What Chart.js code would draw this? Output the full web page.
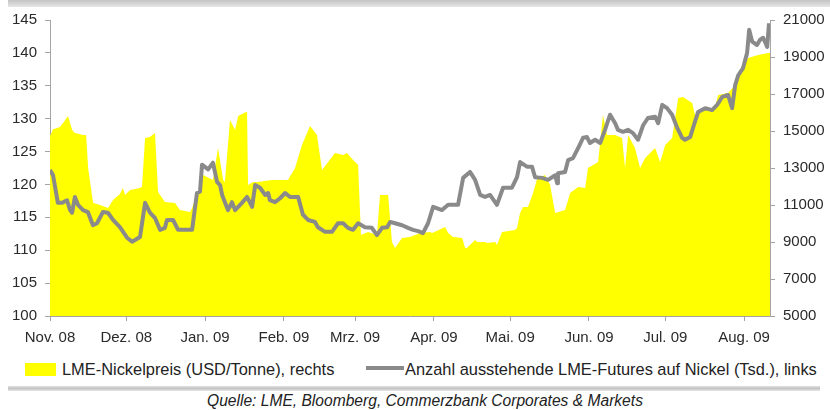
<!DOCTYPE html>
<html>
<head>
<meta charset="utf-8">
<script src="https://cdn.jsdelivr.net/npm/chart.js@4.4.0/dist/chart.umd.min.js"></script>
<style>
  body { margin: 0; background: #fff; }
  #wrap { position: relative; width: 830px; height: 410px; font-family: "Liberation Sans", Arial, sans-serif; color: #222; }
  #chart { position: absolute; left: 0; top: 0; }
  .topbar { position: absolute; left: 8px; top: 0; width: 822px; height: 7px; background: linear-gradient(#c4c4c4, #e6e6e6); }
  .sep { position: absolute; left: 8px; top: 386px; width: 812px; height: 5px; background: linear-gradient(#e2e2e2, #c4c4c4, #e8e8e8); }
  .lg { position: absolute; top: 360px; font-size: 16.4px; line-height: 18px; white-space: nowrap; }
  .swatch { position: absolute; }
  .source { position: absolute; left: 207px; top: 392px; font-size: 15.6px; line-height: 18px; font-style: italic; white-space: nowrap; }
</style>
</head>
<body>
<div id="wrap">
  <div class="topbar"></div>
  <canvas id="chart" width="830" height="350"></canvas>
  <div class="swatch" style="left:25px;top:363px;width:31px;height:13px;background:#ffff00;"></div>
  <div class="lg" style="left:62px;">LME-Nickelpreis (USD/Tonne), rechts</div>
  <div class="swatch" style="left:366px;top:366px;width:38px;height:4px;background:#8a8a8a;"></div>
  <div class="lg" style="left:405px;">Anzahl ausstehende LME-Futures auf Nickel (Tsd.), links</div>
  <div class="sep"></div>
  <div class="source">Quelle: LME, Bloomberg, Commerzbank Corporates &amp; Markets</div>
</div>
<script>
// x axis: days since 1 Nov 2008, labels at month starts
const monthLabels = ['Nov. 08', 'Dez. 08', 'Jan. 09', 'Feb. 09', 'Mrz. 09', 'Apr. 09', 'Mai. 09', 'Jun. 09', 'Jul. 09', 'Aug. 09'];
const monthStartDays = [0, 30, 61, 92, 120, 151, 181, 212, 242, 273];
const lastDay = 283.2;

// LME-Nickelpreis (USD/Tonne), rechte Achse
const priceDays = [
  0, 1.2, 2.8, 3.9, 5.5, 7.1, 8.7, 9.8, 13, 14.2,
  15, 16.5, 17, 19.7, 22.8, 24.8, 27.5, 28.7, 29.5, 31.5,
  35.4, 36.2, 37.4, 39.3, 41.3, 42.5, 45.2, 49.2, 51.1, 55.1,
  55.9, 58.2, 60.2, 64.1, 66.1, 68.1, 68.8, 70.8, 72.8, 74,
  77.1, 77.5, 77.9, 79.9, 81.8, 87.3, 93.6, 96.4, 99.1, 102.3,
  105, 107, 109.4, 112.1, 115.3, 116.8, 119.2, 121.2, 122.3, 125.1,
  128.6, 129.8, 133, 134.5, 135.7, 138.5, 141.6, 145.6, 149.5, 150.3,
  154.6, 155.4, 156.6, 158.5, 162.1, 163.3, 164, 167.2, 168, 171.1,
  171.9, 175.1, 175.8, 177.8, 182.9, 183.7, 184.9, 186.1, 188, 190,
  191.6, 194.7, 196.7, 198.7, 202.6, 204.6, 207.7, 210.5, 211.6, 215.6,
  217.5, 219.1, 222.3, 225, 226.2, 227.4, 230.1, 232.1, 234.1, 238,
  240, 242, 244.7, 247.1, 249, 252.6, 253.7, 257.7, 261.6, 262.8,
  266.7, 269.5, 272.2, 274.6, 278.5, 282.5, 283.2
];
const priceValues = [
  14730, 15100, 15160, 15220, 15500, 15810, 15050, 14890, 14780, 14780,
  13000, 11540, 11110, 11000, 10840, 11270, 11600, 11920, 11540, 11810,
  11920, 12000, 14620, 14680, 14890, 11700, 11160, 11110, 10730, 10620,
  10840, 11700, 12620, 12350, 14080, 12350, 12240, 15600, 15050, 15810,
  16030, 16030, 12080, 12240, 12240, 12350, 12350, 13000, 14240, 15270,
  14780, 12890, 13330, 13810, 13700, 13810, 13430, 13160, 9380, 9540,
  9380, 11540, 11540, 9000, 8680, 9220, 9270, 9490, 9540, 9490,
  9760, 9810, 9490, 9270, 9220, 8680, 8680, 9110, 9000, 9000,
  8950, 9000, 8840, 9540, 9650, 9760, 10570, 10890, 10890, 11650,
  12400, 12620, 12080, 10570, 10730, 11650, 11970, 11920, 13000, 13330,
  15870, 14780, 14780, 14620, 13000, 14780, 14080, 13000, 13540, 14080,
  13330, 14240, 14620, 16780, 16840, 16510, 15870, 16140, 16300, 16950,
  17050, 17490, 18410, 18950, 19110, 19220, 19220
];

// Anzahl ausstehende LME-Futures auf Nickel (Tsd.), linke Achse
const futuresDays = [
  0, 1.2, 3.1, 4.7, 6.7, 7.9, 8.7, 9.8, 11, 13,
  14.9, 16.9, 18.5, 20.8, 22.8, 24.8, 27.5, 30.3, 32.3, 35.4,
  37.4, 39.3, 41.3, 43.3, 45.2, 46, 48.4, 50.4, 55.9, 57.8,
  59, 59.8, 62.2, 64.1, 65.7, 66.9, 67.7, 68.8, 70, 71.6,
  72.8, 75.5, 77.5, 79.5, 80.7, 82.6, 84.6, 85.8, 86.5, 88.5,
  90.5, 92.5, 94.4, 97.6, 99.5, 101.5, 104.2, 105.4, 108.2, 110.9,
  113.3, 115.3, 117.2, 119.2, 121.2, 123.9, 126.6, 128.6, 130.6, 132.6,
  133.8, 135.7, 138.5, 140.8, 142.8, 144.8, 146.7, 148.7, 150.7, 154.2,
  156.6, 160.5, 162.5, 165.2, 167.2, 169.2, 171.1, 173.1, 175.8, 178.2,
  181.7, 183.7, 184.9, 187.6, 189.6, 190.8, 193.5, 195.9, 198.7, 199.5,
  199.8, 202.6, 203.8, 205.7, 207.7, 209.7, 211.2, 212.4, 214.4, 216.4,
  218.3, 220.3, 222.3, 223.4, 225.4, 227.4, 229.3, 231.3, 233.3, 235.2,
  238, 239.2, 240.8, 242.7, 244.7, 246.7, 248.6, 249.8, 251.8, 253,
  254.9, 257.7, 260.4, 262.4, 264.4, 266.7, 268.3, 269.5, 270.7, 272.6,
  274.2, 275, 276.2, 278.1, 279.3, 280.5, 282.1, 282.8
];
const futuresValues = [
  122.2, 121.4, 117.2, 117.2, 117.6, 116.1, 115.7, 118.1, 116.9, 116.1,
  115.8, 113.8, 114.1, 115.8, 115.7, 114.6, 113.5, 111.9, 111.3, 112.0,
  117.2, 115.7, 114.9, 113.1, 113.4, 114.6, 114.6, 113.1, 113.1, 118.7,
  118.9, 123.0, 122.3, 123.3, 120.4, 119.9, 118.4, 117.3, 116.1, 117.3,
  116.1, 117.2, 118.1, 116.6, 119.9, 119.5, 118.4, 118.7, 117.6, 117.3,
  117.9, 118.7, 118.1, 118.1, 115.4, 114.6, 114.3, 113.5, 112.8, 112.8,
  114.1, 114.1, 113.4, 113.1, 114.1, 113.5, 113.4, 112.3, 113.4, 113.5,
  114.3, 114.1, 113.8, 113.4, 113.1, 112.9, 112.6, 114.1, 116.6, 116.1,
  116.9, 116.9, 121.0, 121.9, 120.7, 118.4, 118.1, 118.4, 116.9, 119.5,
  119.5, 121.1, 123.4, 122.7, 122.7, 121.1, 121.0, 120.7, 121.4, 120.2,
  121.7, 121.9, 123.7, 124.0, 125.5, 127.1, 127.2, 126.3, 126.8, 126.3,
  128.3, 130.6, 129.3, 128.3, 128.0, 128.3, 127.8, 126.8, 129.0, 130.1,
  130.3, 129.3, 132.1, 131.6, 130.6, 128.6, 127.1, 126.8, 127.2, 128.7,
  131.0, 131.6, 131.3, 132.1, 133.3, 133.6, 131.6, 135.1, 136.6, 137.7,
  140.0, 143.5, 141.7, 141.2, 142.0, 142.3, 140.9, 144.5
];

const AXIS_COLOR = '#a4a4a4';
const TEXT_COLOR = '#2a2a2a';
const TICK_FONT = { family: '"Liberation Sans", Arial, sans-serif', size: 15 };

function sideAxis(position, min, max, step, width) {
  return {
    type: 'linear',
    position,
    min,
    max,
    border: { display: true, color: AXIS_COLOR, width: 1 },
    grid: { drawOnChartArea: false, drawTicks: true, tickLength: 5, color: AXIS_COLOR },
    ticks: { stepSize: step, color: TEXT_COLOR, font: TICK_FONT, padding: 8, callback: v => String(v) },
    afterFit: axis => { axis.width = width; }
  };
}

new Chart(document.getElementById('chart'), {
  type: 'line',
  data: {
    datasets: [
      {
        label: 'Anzahl ausstehende LME-Futures auf Nickel (Tsd.), links',
        data: futuresDays.map((d, i) => ({ x: d, y: futuresValues[i] })),
        yAxisID: 'y',
        borderColor: '#8a8a8a',
        borderWidth: 4,
        borderJoinStyle: 'round',
        pointRadius: 0,
        tension: 0,
        fill: false,
        order: 0
      },
      {
        label: 'LME-Nickelpreis (USD/Tonne), rechts',
        data: priceDays.map((d, i) => ({ x: d, y: priceValues[i] })),
        yAxisID: 'y1',
        borderWidth: 0,
        backgroundColor: '#ffff00',
        pointRadius: 0,
        tension: 0,
        fill: 'start',
        order: 1
      }
    ]
  },
  options: {
    responsive: false,
    animation: false,
    layout: { padding: { top: 20, left: 0, right: 0, bottom: 0 } },
    plugins: { legend: { display: false }, tooltip: { enabled: false } },
    scales: {
      x: {
        type: 'linear',
        min: 0,
        max: lastDay,
        border: { display: true, color: AXIS_COLOR, width: 1 },
        grid: { drawOnChartArea: false, tickLength: 5, color: AXIS_COLOR },
        afterBuildTicks: axis => { axis.ticks = monthStartDays.map(v => ({ value: v })); },
        ticks: {
          autoSkip: false,
          maxRotation: 0,
          color: TEXT_COLOR,
          font: TICK_FONT,
          padding: 8,
          callback: (v, i) => monthLabels[i]
        },
        afterFit: axis => { axis.height = 34; }
      },
      y: sideAxis('left', 100, 145, 5, 50),
      y1: sideAxis('right', 5000, 21000, 2000, 60)
    }
  }
});
</script>
</body>
</html>
